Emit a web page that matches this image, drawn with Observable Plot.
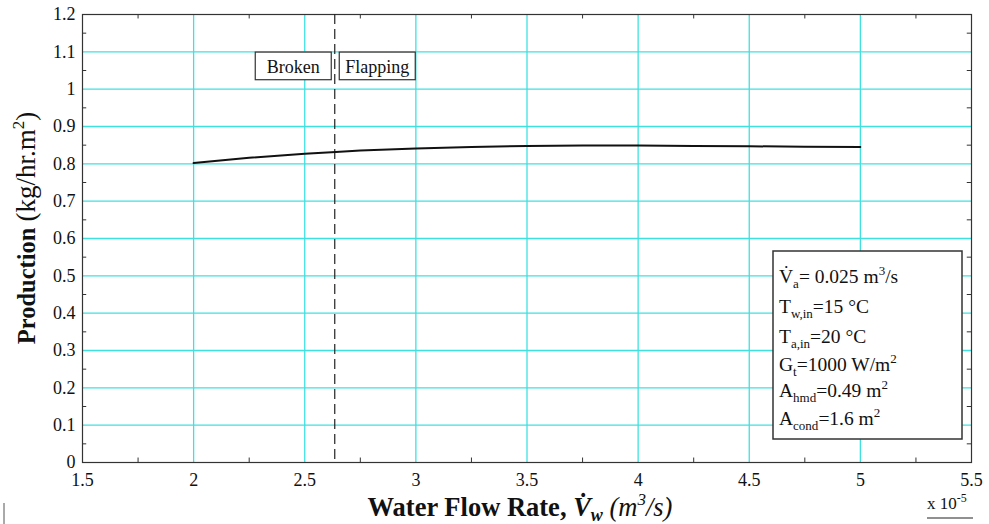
<!DOCTYPE html>
<html>
<head>
<meta charset="utf-8">
<script src="https://cdn.jsdelivr.net/npm/d3@7"></script>
<script src="https://cdn.jsdelivr.net/npm/@observablehq/plot@0.6"></script>
<style>
  html, body { margin: 0; padding: 0; background: #fff; }
  #chart { position: relative; width: 989px; height: 524px; }
</style>
</head>
<body>
<div id="chart"></div>
<script>
// Water flow rate (x 10^-5 m^3/s) and production (kg/hr.m^2)
const flowRate   = [2.0, 2.25, 2.5, 2.64, 2.75, 3.0, 3.25, 3.5, 3.75, 4.0, 4.25, 4.5, 4.75, 5.0];
const production = [0.802, 0.816, 0.827, 0.832, 0.836, 0.841, 0.845, 0.848, 0.849, 0.849, 0.848, 0.847, 0.846, 0.845];
const transitionX = 2.635;
const xTicks = [1.5, 2, 2.5, 3, 3.5, 4, 4.5, 5, 5.5];
const yTicks = [0, 0.1, 0.2, 0.3, 0.4, 0.5, 0.6, 0.7, 0.8, 0.9, 1, 1.1, 1.2];
const xMinor = [1.75, 2.25, 2.75, 3.25, 3.75, 4.25, 4.75, 5.25];
const yMinor = [0.05, 0.15, 0.25, 0.35, 0.45, 0.55, 0.65, 0.75, 0.85, 0.95, 1.05, 1.15];
const regimeLabels = ["Broken", "Flapping"];

const data = flowRate.map((x, i) => ({x, y: production[i]}));
const gridCol = "#3fe0e0";
const serif = "'Liberation Serif', 'Times New Roman', serif";

const plot = Plot.plot({
  width: 989,
  height: 524,
  marginLeft: 82,
  marginRight: 18,
  marginTop: 14,
  marginBottom: 62,
  style: {fontFamily: serif, fontSize: "18px", color: "#111", background: "#fff"},
  x: {domain: [1.5, 5.5]},
  y: {domain: [0, 1.2]},
  marks: [
    Plot.gridX(xTicks.slice(1, -1), {stroke: gridCol, strokeOpacity: 1, strokeWidth: 1.3}),
    Plot.gridY(yTicks.slice(1, -1), {stroke: gridCol, strokeOpacity: 1, strokeWidth: 1.3}),
    // minor ticks (inward)
    Plot.ruleX(xMinor, {y1: 0, y2: 0.012, stroke: "#333"}),
    Plot.ruleX(xMinor, {y1: 1.188, y2: 1.2, stroke: "#333"}),
    Plot.ruleY(yMinor, {x1: 1.5, x2: 1.519, stroke: "#333"}),
    Plot.ruleY(yMinor, {x1: 5.481, x2: 5.5, stroke: "#333"}),
    Plot.frame({stroke: "#333", strokeWidth: 1.2}),
    Plot.axisX(xTicks, {tickSize: 0, tickPadding: 11, fontSize: 18, label: null, tickFormat: d => String(d)}),
    Plot.axisY(yTicks, {tickSize: 0, tickPadding: 7, fontSize: 18, label: null, tickFormat: d => String(d)}),
    Plot.ruleX([transitionX], {stroke: "#222", strokeWidth: 1.2, strokeDasharray: "10,5"}),
    Plot.line(data, {x: "x", y: "y", stroke: "#111", strokeWidth: 2})
  ]
});
document.getElementById("chart").appendChild(plot);

const svg = d3.select(plot);
const sx = plot.scale("x"), sy = plot.scale("y");

// Regime label boxes
const xv = sx.apply(transitionX);
const boxTop = sy.apply(1.098), boxBot = sy.apply(1.024);
const regimes = [
  {label: regimeLabels[0], x0: xv - 79, x1: xv - 3},
  {label: regimeLabels[1], x0: xv + 5, x1: xv + 81}
];
for (const r of regimes) {
  svg.append("rect").attr("x", r.x0).attr("y", boxTop).attr("width", r.x1 - r.x0).attr("height", boxBot - boxTop)
    .attr("fill", "#fff").attr("stroke", "#333").attr("stroke-width", 1.2);
  svg.append("text").attr("x", (r.x0 + r.x1) / 2).attr("y", boxBot - 7).attr("text-anchor", "middle")
    .attr("font-family", serif).attr("font-size", 18).attr("fill", "#111").text(r.label);
}

// Parameter box
const lx0 = 773, ly0 = 251, lx1 = 962, ly1 = 439;
svg.append("rect").attr("x", lx0).attr("y", ly0).attr("width", lx1 - lx0).attr("height", ly1 - ly0)
  .attr("fill", "#fff").attr("stroke", "#333").attr("stroke-width", 1.5);
const legendLines = [
  [["V\u0307", 0], ["a", 1], ["= 0.025 m", 0], ["3", -1], ["/s", 0]],
  [["T", 0], ["w,in", 1], ["=15 \u00B0C", 0]],
  [["T", 0], ["a,in", 1], ["=20 \u00B0C", 0]],
  [["G", 0], ["t", 1], ["=1000 W/m", 0], ["2", -1]],
  [["A", 0], ["hmd", 1], ["=0.49 m", 0], ["2", -1]],
  [["A", 0], ["cond", 1], ["=1.6 m", 0], ["2", -1]]
];
const baselines = [283, 313, 343, 371, 397, 425];
legendLines.forEach((parts, i) => {
  const t = svg.append("text").attr("x", 779).attr("y", baselines[i]).attr("text-anchor", "start")
    .attr("font-family", serif).attr("font-size", 19.5).attr("fill", "#111");
  let shift = 0;
  for (const [s, kind] of parts) {
    const target = kind === 1 ? 5 : kind === -1 ? -8 : 0;
    const ts = t.append("tspan").attr("dy", target - shift).text(s);
    if (kind !== 0) ts.attr("font-size", 13);
    shift = target;
  }
});

// Y axis label
const yl = svg.append("text")
  .attr("transform", `translate(35, 228) rotate(-90)`)
  .attr("text-anchor", "middle").attr("font-family", serif).attr("font-size", 24.5).attr("fill", "#111");
yl.append("tspan").attr("font-weight", "bold").text("Production ");
yl.append("tspan").attr("font-size", 27).text("(kg/hr.m");
yl.append("tspan").attr("font-size", 17).attr("dy", -11).text("2");
yl.append("tspan").attr("font-size", 27).attr("dy", 11).text(")");

// X axis label
const xl = svg.append("text").attr("x", 520).attr("y", 516).attr("text-anchor", "middle")
  .attr("font-family", serif).attr("font-size", 26.5).attr("fill", "#111");
xl.append("tspan").attr("font-weight", "bold").text("Water Flow Rate, ");
xl.append("tspan").attr("font-weight", "bold").attr("font-style", "italic").text("V\u0307");
xl.append("tspan").attr("font-weight", "bold").attr("font-style", "italic").attr("font-size", 18).attr("dy", 5).text("w");
xl.append("tspan").attr("font-style", "italic").attr("dy", -5).text(" (m");
xl.append("tspan").attr("font-style", "italic").attr("font-size", 17).attr("dy", -11).text("3");
xl.append("tspan").attr("font-style", "italic").attr("dy", 11).text("/s)");

// Exponent note
const ex = svg.append("text").attr("x", 927).attr("y", 509).attr("text-anchor", "start")
  .attr("font-family", serif).attr("font-size", 17).attr("fill", "#111");
ex.append("tspan").text("x 10");
ex.append("tspan").attr("font-size", 12).attr("dy", -7).text("-5");
svg.append("line").attr("x1", 927).attr("x2", 973).attr("y1", 518).attr("y2", 518).attr("stroke", "#222").attr("stroke-width", 1.2);

// small stray mark at bottom-left
svg.append("line").attr("x1", 4).attr("x2", 4).attr("y1", 503).attr("y2", 524).attr("stroke", "#555").attr("stroke-width", 1);
</script>
</body>
</html>
